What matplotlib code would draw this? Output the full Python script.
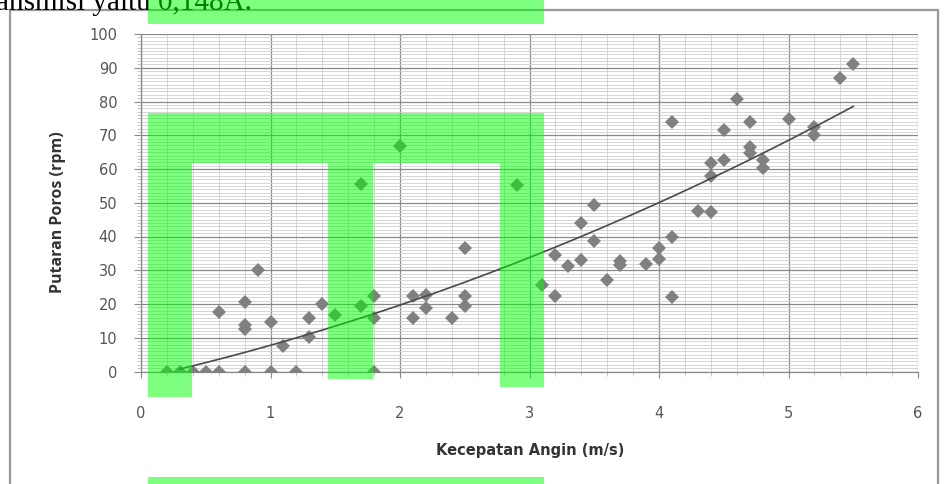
import numpy as np
import matplotlib
matplotlib.use("Agg")
import matplotlib.pyplot as plt
from matplotlib.patches import Rectangle
from matplotlib.ticker import MultipleLocator

# wind speed (m/s) vs shaft rotation (rpm)
kecepatan = [0.2, 0.3, 0.4, 0.5, 0.6, 0.8, 1.0, 1.2, 1.8,
             0.6, 0.8, 0.8, 0.8, 0.9, 1.0, 1.1, 1.3, 1.3, 1.4, 1.5, 1.7, 1.7, 1.8, 1.8,
             2.0, 2.1, 2.1, 2.2, 2.2, 2.4, 2.5, 2.5, 2.5, 2.9,
             3.1, 3.2, 3.2, 3.3, 3.4, 3.4, 3.5, 3.5, 3.6, 3.7, 3.7, 3.9, 4.0, 4.0,
             4.1, 4.1, 4.1, 4.3, 4.4, 4.4, 4.4, 4.5, 4.5, 4.6, 4.7, 4.7, 4.7,
             4.8, 4.8, 5.0, 5.2, 5.2, 5.4, 5.5]
putaran = [0, 0, 0, 0, 0, 0, 0, 0, 0,
           17.7, 20.7, 12.5, 13.7, 30.0, 14.8, 7.5, 10.3, 15.8, 20.0, 16.8, 55.6, 19.3, 22.5, 16.0,
           66.9, 22.5, 16.0, 22.6, 18.7, 15.8, 36.7, 22.5, 19.5, 55.4,
           25.6, 34.5, 22.3, 31.4, 33.0, 44.0, 49.2, 38.8, 27.0, 31.5, 32.6, 32.0, 33.2, 36.5,
           40.0, 22.2, 74.0, 47.5, 47.4, 57.9, 61.7, 62.7, 71.6, 80.7, 74.0, 66.5, 64.8,
           62.6, 60.3, 74.8, 72.3, 70.2, 87.0, 91.2]

# points read along the printed trendline (poly order 2)
trend_x = [0.4, 1.02, 1.41, 1.78, 2.77, 3.11, 3.7, 4.4, 5.19, 5.5]
trend_y = [1.6, 8.1, 12.5, 16.9, 30.1, 35.0, 45.2, 57.7, 72.0, 78.5]

x_ticks = [0, 1, 2, 3, 4, 5, 6]
y_ticks = [0, 10, 20, 30, 40, 50, 60, 70, 80, 90, 100]

W, H = 944, 484
fig = plt.figure(figsize=(W / 100, H / 100), dpi=100)
fig.patch.set_facecolor("white")


def fx(px):
    return px / W


def fy(py):
    return 1 - py / H


ax = fig.add_axes([fx(141), fy(371.5), fx(918) - fx(141), fy(34) - fy(371.5)])
ax.set_xlim(0, 6)
ax.set_ylim(0, 100)
ax.set_xticks(x_ticks)
ax.set_yticks(y_ticks)
ax.xaxis.set_minor_locator(MultipleLocator(0.2))
ax.yaxis.set_minor_locator(MultipleLocator(1))
ax.grid(which="minor", color="#cfcfcf", lw=0.6)
ax.grid(which="major", color="#8a8a8a", lw=0.9)
ax.set_axisbelow(True)
for side in ["top", "right"]:
    ax.spines[side].set_visible(False)
for side in ["left", "bottom"]:
    ax.spines[side].set_color("#8a8a8a")
    ax.spines[side].set_linewidth(0.9)

ax.tick_params(axis="y", which="major", length=5, color="#8a8a8a", pad=12,
               labelsize=10.5, labelcolor="#555555")
ax.tick_params(axis="x", which="major", length=4, color="#8a8a8a", pad=21,
               labelsize=10.5, labelcolor="#555555")
ax.tick_params(which="minor", length=3, color="#bbbbbb")
for lab in ax.get_xticklabels() + ax.get_yticklabels():
    lab.set_fontfamily("DejaVu Sans")

ax.plot(kecepatan, putaran, linestyle="none", marker="D", markersize=6.8,
        color="#808080", markeredgewidth=0, zorder=3)

coef = np.polyfit(trend_x, trend_y, 2)
xs = np.linspace(0.3, max(kecepatan), 200)
ax.plot(xs, np.polyval(coef, xs), color="#4a4a4a", lw=1.2, zorder=4)

fig.text(fx(530), fy(450), "Kecepatan Angin (m/s)", ha="center", va="center",
         fontsize=10.5, fontweight="bold", family="DejaVu Sans", color="#333333")
fig.text(fx(58), fy(212), "Putaran Poros (rpm)", ha="center", va="center",
         rotation=90, fontsize=11.5, fontweight="bold", family="Open Sans",
         color="#333333")

# chart frame of the scanned page
fig.patches.append(Rectangle((fx(10), fy(494)), fx(938) - fx(10), fy(10) - fy(494),
                             transform=fig.transFigure, fill=False,
                             edgecolor="#9a9a9a", lw=1.6, zorder=1))

# cut-off sentence above the chart
fig.text(fx(-4), fy(9.5), "ansmisi yaitu 0,148A.", ha="left", va="baseline",
         fontsize=21, family="Liberation Serif", color="black")

# green marker boxes over the scan
boxes = [(148, 0, 544, 24),
         (148, 113, 544, 163),
         (148, 163, 192, 397),
         (328, 163, 373, 379),
         (500, 163, 544, 387),
         (148, 477, 544, 484)]
for x0, y0, x1, y1 in boxes:
    fig.patches.append(Rectangle((fx(x0), fy(y1)), fx(x1) - fx(x0), fy(y0) - fy(y1),
                                 transform=fig.transFigure, facecolor="#00ff00",
                                 alpha=0.5, edgecolor="none", zorder=10))

fig.savefig("out.png", dpi=100)
